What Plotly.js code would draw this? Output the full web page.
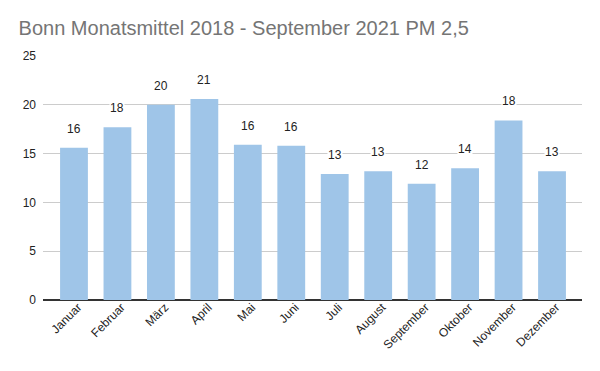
<!DOCTYPE html>
<html>
<head>
<meta charset="utf-8">
<script src="https://cdn.plot.ly/plotly-3.0.1.min.js"></script>
<style>html,body{margin:0;padding:0;background:#fff;}#chart{width:600px;height:371px;}</style>
</head>
<body>
<div id="chart"></div>
<script>
const months = ["Januar","Februar","März","April","Mai","Juni","Juli","August","September","Oktober","November","Dezember"];
const pm25 = [15.6, 17.7, 20.0, 20.6, 15.9, 15.8, 12.9, 13.2, 11.9, 13.5, 18.4, 13.2];
const yTicks = [0, 5, 10, 15, 20, 25];

const font = "Liberation Sans, Arial, sans-serif";

const trace = {
  type: "bar",
  x: months,
  y: pm25,
  marker: { color: "#9fc5e8" },
  width: 0.64,
  hoverinfo: "x+y"
};

const annotations = months.map((m, i) => ({
  x: m,
  y: pm25[i],
  text: String(Math.round(pm25[i])),
  showarrow: false,
  yanchor: "bottom",
  yshift: 11,
  bgcolor: "#ffffff",
  borderpad: 0,
  font: { family: font, size: 12, color: "#222" }
}));

const layout = {
  width: 600,
  height: 371,
  margin: { l: 43, r: 18, t: 56, b: 71 },
  paper_bgcolor: "#fff",
  plot_bgcolor: "#fff",
  showlegend: false,
  title: {
    text: "Bonn Monatsmittel 2018 - September 2021 PM 2,5",
    x: 0.031, xanchor: "left",
    y: 0.925, yanchor: "middle",
    font: { family: font, size: 20, color: "#757575" }
  },
  xaxis: {
    type: "category",
    range: [-0.713, 11.69],
    tickangle: -45,
    tickfont: { family: font, size: 12, color: "#222" },
    ticklabelshift: 4,
    ticklabelstandoff: -3,
    showgrid: false,
    showline: false,
    ticks: "",
    fixedrange: true
  },
  yaxis: {
    range: [0, 25],
    tickvals: yTicks,
    ticktext: yTicks.map(String),
    tickfont: { family: font, size: 12, color: "#222" },
    gridcolor: "#cccccc",
    gridwidth: 1,
    zeroline: true,
    zerolinecolor: "#333333",
    zerolinewidth: 1.5,
    showline: false,
    ticks: "",
    ticklabelstandoff: 6,
    fixedrange: true
  },
  annotations: annotations
};

Plotly.newPlot("chart", [trace], layout, { displayModeBar: false, staticPlot: true });
</script>
</body>
</html>
